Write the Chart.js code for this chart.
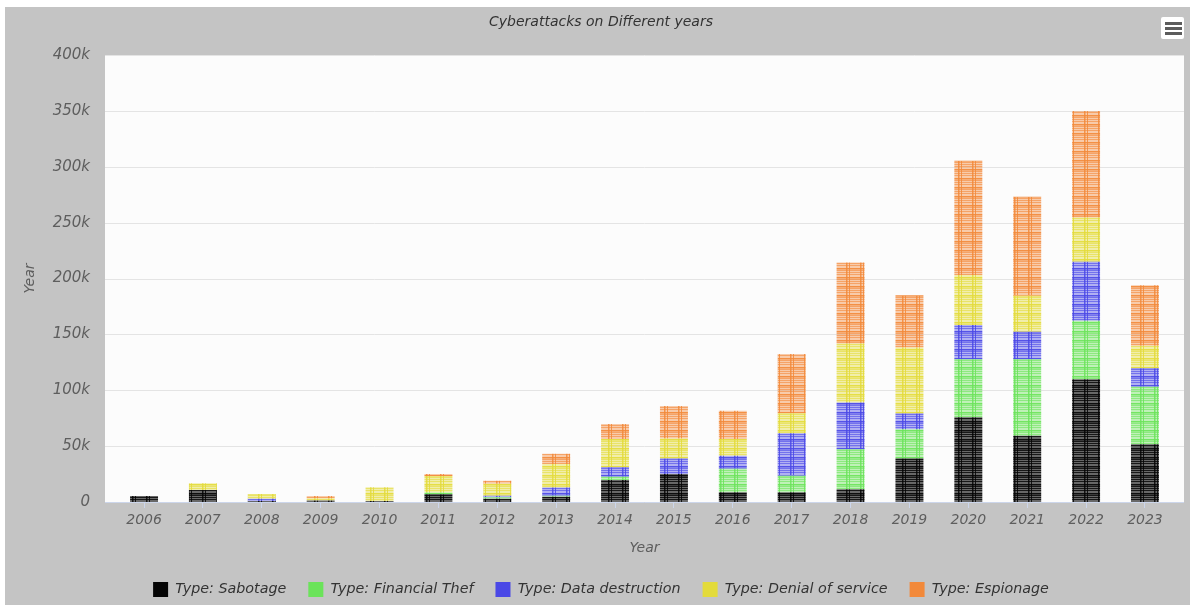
<!DOCTYPE html>
<html>
<head>
<meta charset="utf-8">
<title>Cyberattacks on Different years</title>
<script src="https://cdn.jsdelivr.net/npm/chart.js@4.4.1/dist/chart.umd.min.js"></script>
<style>
  html, body { margin: 0; padding: 0; background: #ffffff; width: 1190px; height: 605px; overflow: hidden; }
  #frame { position: absolute; left: 5px; top: 7px; width: 1185px; height: 600px; background: #c4c4c4; }
  #chart { position: absolute; left: 0; top: 0; }
  #menu { position: absolute; left: 1156px; top: 10px; width: 23px; height: 22px; background: #ffffff; border-radius: 2px; }
  #menu span { position: absolute; left: 4px; width: 17px; height: 3px; background: #5c5c5c; }
</style>
</head>
<body>
<div id="frame">
  <canvas id="chart" width="1185" height="600"></canvas>
  <div id="menu"><span style="top:5px"></span><span style="top:10px"></span><span style="top:15px"></span></div>
</div>
<script>
// Attack counts per year, one array per attack type
const years = ['2006','2007','2008','2009','2010','2011','2012','2013','2014','2015','2016','2017','2018','2019','2020','2021','2022','2023'];
const sabotage       = [5400, 10700, 1000, 1400, 1000, 6900, 3000, 4800, 19700, 25000, 8700, 8700, 11300, 39000, 75800, 59300, 109800, 51600];
const financialTheft = [0, 0, 0, 0, 0, 1700, 1300, 900, 3000, 0, 21000, 14900, 36000, 26200, 51900, 68400, 52500, 51600];
const dataDestruction= [0, 0, 2000, 0, 0, 0, 1300, 7200, 8400, 14000, 11600, 37900, 41800, 14000, 30700, 24700, 52800, 16400];
const denialOfService= [0, 6000, 4200, 2000, 12200, 14600, 10700, 21200, 25300, 17900, 15000, 17900, 52800, 59000, 44700, 32200, 39400, 20300];
const espionage      = [0, 0, 0, 2000, 0, 1800, 2700, 9000, 13400, 28900, 25300, 53000, 72500, 46800, 102300, 88600, 95500, 54000];
const yTicks = [0, 50000, 100000, 150000, 200000, 250000, 300000, 350000, 400000];

const seriesNames  = ['Type: Sabotage', 'Type: Financial Thef', 'Type: Data destruction', 'Type: Denial of service', 'Type: Espionage'];
const seriesData   = [sabotage, financialTheft, dataDestruction, denialOfService, espionage];
const seriesColors = ['#050505', '#6be35a', '#4a48e6', '#e3db3b', '#f2893a'];

const FONT = "'DejaVu Sans', 'Liberation Sans', sans-serif";
const TICK_COLOR = '#5e5e5e';

// Grid-textured fill used for the bar segments
function texture(color, dark) {
  const c = document.createElement('canvas');
  c.width = 14; c.height = 9;
  const g = c.getContext('2d');
  g.fillStyle = color;
  g.globalAlpha = dark ? 0.6 : 0.42; g.fillRect(0, 0, 14, 9);
  g.globalAlpha = dark ? 0.8 : 0.6;
  [2, 4, 6].forEach(y => g.fillRect(0, y, 14, 1));
  g.globalAlpha = 0.9; g.fillRect(0, 0, 14, 1.5);
  g.globalAlpha = 0.85; g.fillRect(1, 0, 1.5, 9); g.fillRect(4, 0, 1, 9);
  return g.createPattern(c, 'repeat');
}

// White plot band with horizontal grid lines, slightly wider than the category axis
const plotBand = {
  id: 'plotBand',
  beforeDraw(chart) {
    const { ctx, chartArea: { left, right, top, bottom }, scales: { y } } = chart;
    const ext = 9.6;
    ctx.save();
    ctx.fillStyle = '#fcfcfc';
    ctx.fillRect(left - ext, top, right - left + 2 * ext, bottom - top);
    ctx.strokeStyle = '#e4e4e4';
    ctx.lineWidth = 1;
    y.ticks.forEach(t => {
      if (t.value === 0) return;
      const py = Math.round(y.getPixelForValue(t.value)) + 0.5;
      ctx.beginPath(); ctx.moveTo(left - ext, py); ctx.lineTo(right + ext, py); ctx.stroke();
    });
    ctx.strokeStyle = '#ccd6eb';
    const py0 = Math.round(y.getPixelForValue(0)) + 0.5;
    ctx.beginPath(); ctx.moveTo(left - ext, py0); ctx.lineTo(right + ext, py0); ctx.stroke();
    ctx.restore();
  }
};

new Chart(document.getElementById('chart'), {
  type: 'bar',
  data: {
    labels: years,
    datasets: seriesData.map((d, i) => ({
      label: seriesNames[i],
      data: d,
      backgroundColor: texture(seriesColors[i], i === 0),
      borderWidth: 0,
      barPercentage: 0.475,
      categoryPercentage: 1
    }))
  },
  options: {
    responsive: false,
    animation: false,
    devicePixelRatio: 1,
    layout: { padding: { left: 22.6, right: 15.6, top: 0, bottom: 0 } },
    plugins: {
      tooltip: { enabled: false },
      title: {
        display: true,
        text: 'Cyberattacks on Different years',
        color: '#333333',
        font: { family: FONT, size: 14, style: 'italic', weight: 'normal', lineHeight: 1.2 },
        padding: { top: 7.2, bottom: 24 }
      },
      legend: {
        position: 'bottom',
        labels: {
          color: '#333333',
          font: { family: FONT, size: 14.3, style: 'italic', lineHeight: 1.2 },
          boxWidth: 15,
          boxHeight: 15,
          padding: 22,
          generateLabels(chart) {
            return chart.data.datasets.map((ds, i) => ({
              text: ds.label,
              fillStyle: seriesColors[i],
              strokeStyle: seriesColors[i],
              lineWidth: 0,
              hidden: false,
              datasetIndex: i,
              fontColor: '#333333'
            }));
          }
        }
      }
    },
    scales: {
      x: {
        stacked: true,
        afterFit(s) { s.height = 58; },
        grid: { display: true, drawOnChartArea: false, drawTicks: true, tickLength: 6, color: '#ccd6eb', offset: false },
        border: { display: false },
        ticks: { color: TICK_COLOR, font: { family: FONT, size: 14, style: 'italic' }, padding: 3.6, maxRotation: 0 },
        title: {
          display: true, text: 'Year', color: TICK_COLOR,
          font: { family: FONT, size: 14, style: 'italic', lineHeight: 1.2 },
          padding: { top: 0, bottom: 3.6 }
        }
      },
      y: {
        stacked: true,
        min: 0,
        max: 400000,
        afterFit(s) { s.width = 87; },
        afterBuildTicks(s) { s.ticks = yTicks.map(v => ({ value: v })); },
        grid: { display: false, drawTicks: false },
        border: { display: false },
        ticks: {
          color: TICK_COLOR,
          font: { family: FONT, size: 15, style: 'italic' },
          padding: 24.6,
          callback: v => v === 0 ? '0' : (v / 1000) + 'k'
        },
        title: {
          display: true, text: 'Year', color: TICK_COLOR,
          font: { family: FONT, size: 14, style: 'italic', lineHeight: 1.2 },
          padding: { top: -6, bottom: 0 }
        }
      }
    }
  },
  plugins: [plotBand]
});
</script>
</body>
</html>
